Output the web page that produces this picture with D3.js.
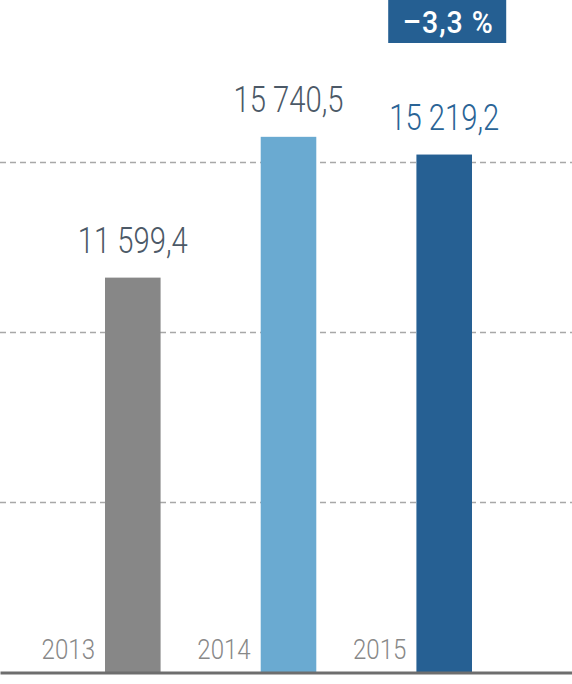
<!DOCTYPE html>
<html>
<head>
<meta charset="utf-8">
<script src="https://cdn.jsdelivr.net/npm/d3@7"></script>
<style>
  html, body { margin: 0; padding: 0; background: #fff; }
  svg { display: block; }
  text { font-family: Roboto, "Open Sans", sans-serif; }
</style>
</head>
<body>
<svg id="chart" width="572" height="684"></svg>
<script>
const years = ["2013", "2014", "2015"];
const values = [11599.4, 15740.5, 15219.2];
const valueLabels = ["11 599,4", "15 740,5", "15 219,2"];
const gridTicks = [5000, 10000, 15000];
const changeLabel = "\u20133,3 %";

const barColors = ["#878787", "#6aaad1", "#266093"];
const labelColors = ["#4c5967", "#4c5967", "#2a6496"];

const W = 572, H = 684;
const svg = d3.select("#chart");

const x = d3.scaleBand().domain(years).range([105, 472]).paddingInner(0.643).paddingOuter(0);
const y = d3.scaleLinear().domain([0, 15000]).range([672, 162]);

// gridlines
svg.append("g").selectAll("line").data(gridTicks).join("line")
  .attr("x1", 0).attr("x2", W)
  .attr("y1", d => Math.round(y(d)) + 0.5).attr("y2", d => Math.round(y(d)) + 0.5)
  .attr("stroke", "#a8a8a8").attr("stroke-width", 1.3)
  .attr("stroke-dasharray", "6,4");

// bars
svg.append("g").selectAll("rect").data(years).join("rect")
  .attr("x", d => x(d))
  .attr("width", x.bandwidth())
  .attr("y", (d, i) => y(values[i]))
  .attr("height", (d, i) => y(0) - y(values[i]))
  .attr("fill", (d, i) => barColors[i]);

// axis baseline
const axis = svg.append("g").attr("transform", `translate(0,${y(0) + 0.5})`)
  .call(d3.axisBottom(d3.scaleLinear().range([0, W])).ticks(0).tickSize(0));
axis.select(".domain").attr("stroke", "#6e6e6e").attr("stroke-width", 3.2);
axis.selectAll(".tick").remove();

// value labels
svg.append("g").selectAll("text").data(years).join("text")
  .attr("transform", (d, i) => `translate(${x(d) + x.bandwidth() / 2},${y(values[i]) - 25}) scale(0.78,1)`)
  .attr("text-anchor", "middle")
  .attr("font-size", 37.5)
  .attr("font-weight", 300)
  .attr("fill", (d, i) => labelColors[i])
  .text((d, i) => valueLabels[i]);

// year labels
svg.append("g").selectAll("text").data(years).join("text")
  .attr("transform", d => `translate(${x(d) - 10},${659}) scale(0.86,1)`)
  .attr("text-anchor", "end")
  .attr("font-size", 28)
  .attr("font-weight", 300)
  .attr("fill", "#888888")
  .text(d => d);

// change box above 2015
const last = years[years.length - 1];
const cx = x(last) + x.bandwidth() / 2;
svg.append("rect")
  .attr("x", cx - 56).attr("y", 0)
  .attr("width", 118).attr("height", 43)
  .attr("fill", "#255f92");
svg.append("text")
  .attr("transform", `translate(${cx + 4},32.5) scale(0.92,1)`)
  .attr("text-anchor", "middle")
  .attr("font-size", 31)
  .attr("font-weight", 500)
  .attr("letter-spacing", 1)
  .attr("fill", "#ffffff")
  .text(changeLabel);
</script>
</body>
</html>
